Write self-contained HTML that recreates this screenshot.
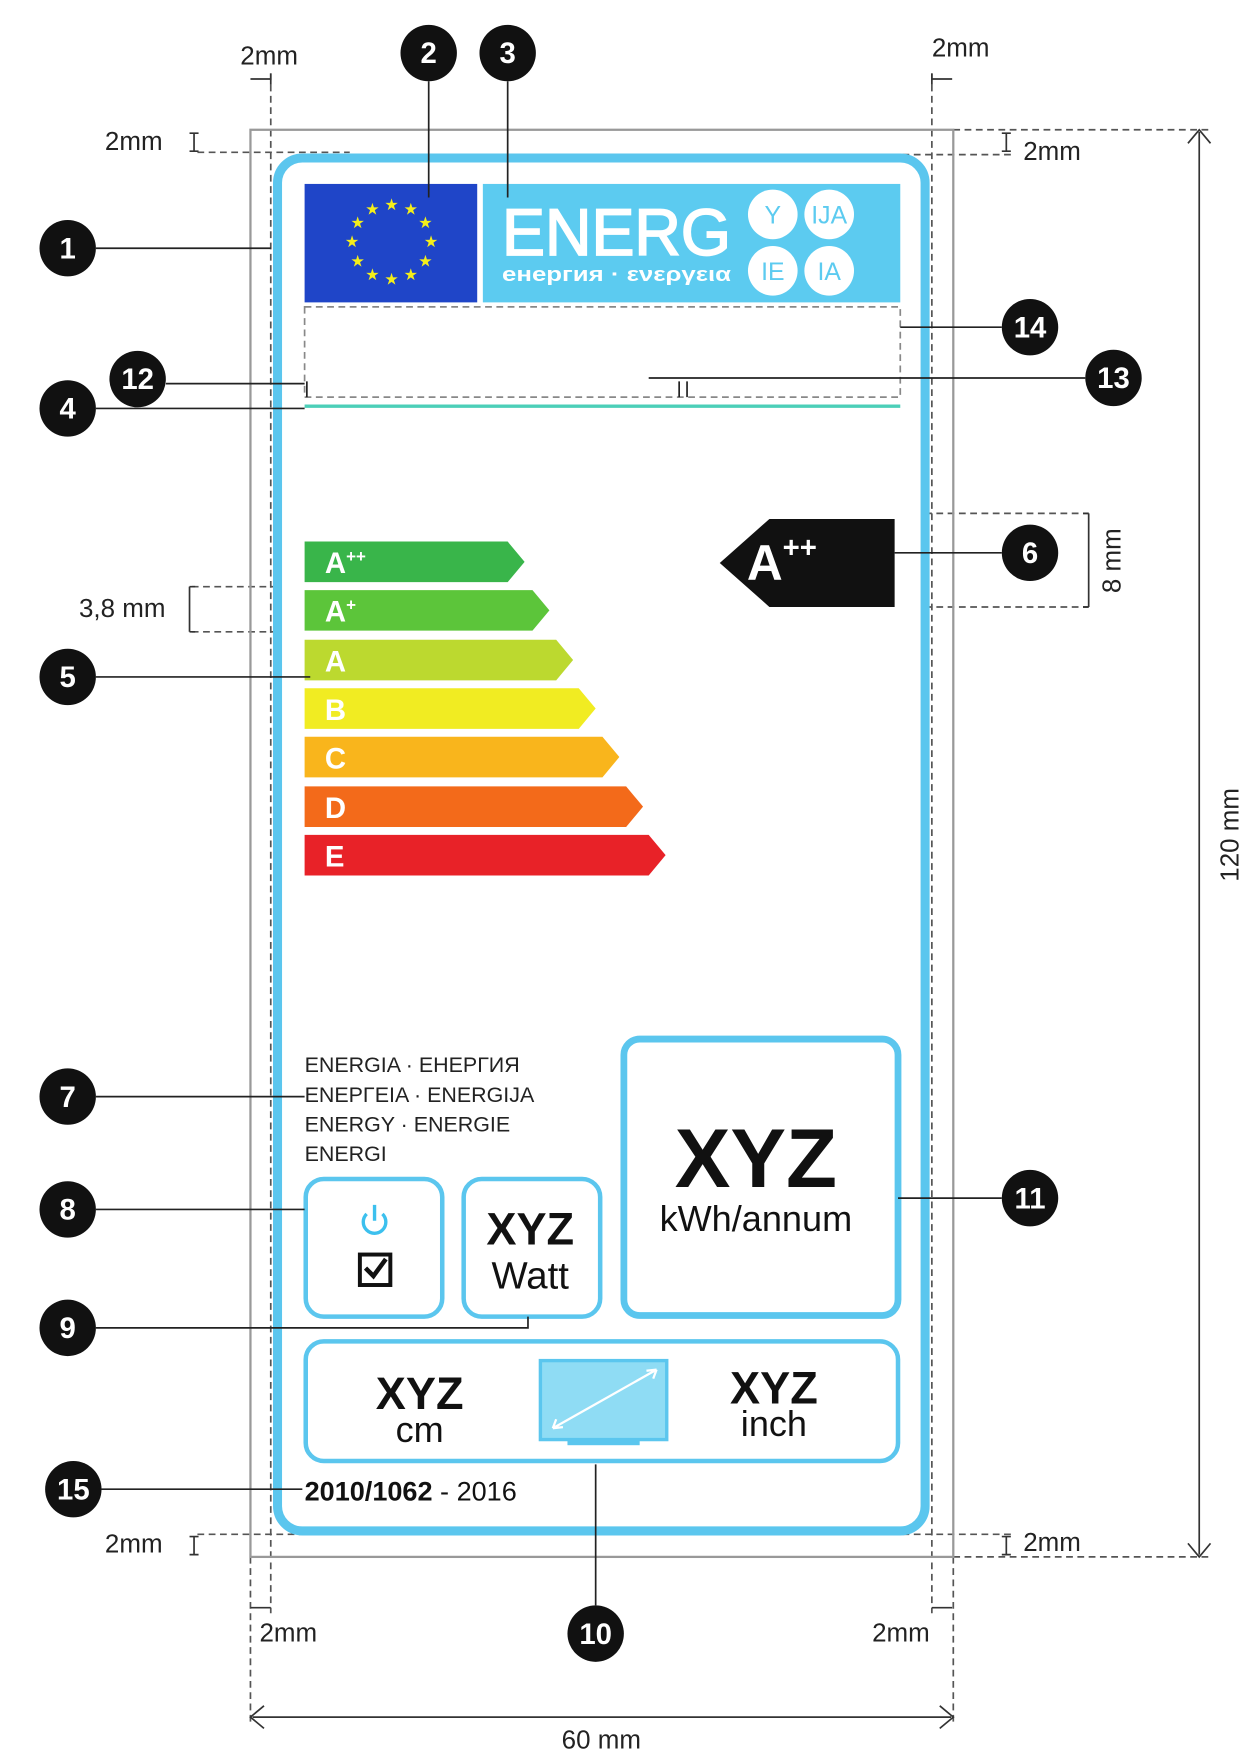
<!DOCTYPE html>
<html><head><meta charset="utf-8"><style>html,body{margin:0;padding:0;background:#fff}svg{display:block}text{font-family:"Liberation Sans",sans-serif}</style></head><body>
<svg width="1250" height="1760" viewBox="0 0 1108 1560" xmlns="http://www.w3.org/2000/svg">
<g fill="none" stroke="#555" stroke-width="1.5" stroke-dasharray="6,4">
<line x1="240" y1="65" x2="240" y2="1430"/><line x1="826" y1="65" x2="826" y2="1430"/>
<line x1="222" y1="1380" x2="222" y2="1530"/><line x1="845" y1="1380" x2="845" y2="1530"/>
<line x1="845" y1="115" x2="1075" y2="115"/><line x1="845" y1="1380" x2="1075" y2="1380"/>
<line x1="175" y1="135" x2="310" y2="135"/><line x1="760" y1="137" x2="900" y2="137"/>
<line x1="175" y1="1360" x2="310" y2="1360"/><line x1="760" y1="1360" x2="900" y2="1360"/>
<line x1="790" y1="455" x2="965" y2="455"/><line x1="790" y1="538" x2="965" y2="538"/>
<line x1="170" y1="520" x2="300" y2="520"/><line x1="170" y1="560" x2="300" y2="560"/>
</g>
<rect x="222" y="115" width="623" height="1265" fill="none" stroke="#999" stroke-width="2"/>
<rect x="246" y="140" width="574" height="1217" rx="22" fill="#fff" stroke="#5bc6ee" stroke-width="8"/>
<rect x="270" y="272" width="528" height="80" fill="none" stroke="#888" stroke-width="1.5" stroke-dasharray="6,4"/>
<g stroke="#333" stroke-width="1.5" fill="none">
<path d="M1063 117V1378M1053 127l10-12 10 12M1053 1368l10 12 10-12"/>
<path d="M224 1522H843M234 1512l-12 10 12 10M833 1512l12 10-12 10"/>
<path d="M965 455V538M960 455h5M960 538h5"/><path d="M168 520V560M173 520h-5M173 560h-5"/>
<path d="M172 118v16M168 118h8M168 134h8M892 118v16M888 118h8M888 134h8M172 1362v16M168 1362h8M168 1378h8M892 1362v16M888 1362h8M888 1378h8"/>
<path d="M222 70h18M240 65v10M826 70h18M826 65v10M222 1425h18M826 1425h18"/>
</g>
<rect x="270" y="163" width="153" height="105" fill="#1f45c8"/>
<g fill="#f4ee1a" font-size="14" text-anchor="middle">
<text x="347" y="186">★</text><text x="364" y="190">★</text><text x="377" y="202">★</text><text x="382" y="219">★</text><text x="377" y="236">★</text><text x="364" y="248">★</text><text x="347" y="252">★</text><text x="330" y="248">★</text><text x="317" y="236">★</text><text x="312" y="219">★</text><text x="317" y="202">★</text><text x="330" y="190">★</text>
</g>
<rect x="428" y="163" width="370" height="105" fill="#5ccbf0"/>
<text x="445" y="226" font-size="58" fill="#fff" textLength="203" lengthAdjust="spacingAndGlyphs" stroke="#fff" stroke-width="1.5">ENERG</text>
<text x="445" y="249" font-size="18" font-weight="bold" fill="#fff" textLength="203" lengthAdjust="spacingAndGlyphs">енергия · ενεργεια</text>
<g fill="#fff"><circle cx="685" cy="190" r="22"/><circle cx="735" cy="190" r="22"/><circle cx="685" cy="240" r="22"/><circle cx="735" cy="240" r="22"/></g>
<g fill="#5ccbf0" font-size="22" text-anchor="middle"><text x="685" y="198">Y</text><text x="735" y="198">IJA</text><text x="685" y="248">IE</text><text x="735" y="248">IA</text></g>
<line x1="270" y1="360" x2="798" y2="360" stroke="#4ccfb8" stroke-width="3"/>
<g font-size="26" font-weight="bold" fill="#fff">
<path d="M270 480h180l15 18-15 18H270z" fill="#39b54a"/><text x="288" y="508">A<tspan font-size="15" dy="-10">++</tspan></text>
<path d="M270 523h202l15 18-15 18H270z" fill="#5cc53a"/><text x="288" y="551">A<tspan font-size="15" dy="-10">+</tspan></text>
<path d="M270 567h223l15 18-15 18H270z" fill="#bcd92f"/><text x="288" y="595">A</text>
<path d="M270 610h243l15 18-15 18H270z" fill="#f1ec22"/><text x="288" y="638">B</text>
<path d="M270 653h264l15 18-15 18H270z" fill="#f9b51c"/><text x="288" y="681">C</text>
<path d="M270 697h285l15 18-15 18H270z" fill="#f36a1a"/><text x="288" y="725">D</text>
<path d="M270 740h305l15 18-15 18H270z" fill="#e82228"/><text x="288" y="768">E</text>
</g>
<path d="M682 460h111v78H682l-44-39z" fill="#111"/>
<text x="662" y="514" font-size="44" font-weight="bold" fill="#fff">A<tspan font-size="26" dy="-20">++</tspan></text>
<g font-size="19" fill="#222"><text x="270" y="950">ENERGIA · ЕНЕРГИЯ</text><text x="270" y="977">ΕΝΕΡΓΕΙΑ · ENERGIJA</text><text x="270" y="1003">ENERGY · ENERGIE</text><text x="270" y="1029">ENERGI</text></g>
<g fill="none" stroke="#5bc6ee" stroke-width="4">
<rect x="271" y="1045" width="121" height="122" rx="16"/><rect x="411" y="1045" width="121" height="122" rx="16"/>
<rect x="553" y="921" width="243" height="245" rx="14" stroke-width="6"/><rect x="271" y="1189" width="525" height="106" rx="16"/>
</g>
<path d="M325 1076a10 10 0 1 0 14 0M332 1068v14" stroke="#3cc0ee" stroke-width="3" fill="none"/>
<rect x="319" y="1112" width="27" height="27" fill="none" stroke="#111" stroke-width="3.5"/><path d="M324 1124l7 7 11-15" stroke="#111" stroke-width="4" fill="none"/>
<text x="470" y="1103" font-size="40" font-weight="bold" text-anchor="middle" fill="#111">XYZ</text>
<text x="470" y="1142" font-size="34" text-anchor="middle" fill="#111">Watt</text>
<text x="670" y="1052" font-size="74" font-weight="bold" text-anchor="middle" fill="#111">XYZ</text>
<text x="670" y="1091" font-size="32" text-anchor="middle" fill="#111">kWh/annum</text>
<text x="372" y="1249" font-size="40" font-weight="bold" text-anchor="middle" fill="#111">XYZ</text>
<text x="372" y="1278" font-size="32" text-anchor="middle" fill="#111">cm</text>
<text x="686" y="1244" font-size="40" font-weight="bold" text-anchor="middle" fill="#111">XYZ</text>
<text x="686" y="1273" font-size="32" text-anchor="middle" fill="#111">inch</text>
<rect x="479" y="1206" width="112" height="70" fill="#8fdcf4" stroke="#5bc6ee" stroke-width="3"/>
<rect x="503" y="1276" width="64" height="5" fill="#5bc6ee"/>
<path d="M490 1266L582 1214M490 1266l9-1M490 1266l3-8M582 1214l-9 1M582 1214l-3 8" stroke="#fff" stroke-width="2" fill="none"/>
<text x="270" y="1330" font-size="24" fill="#111"><tspan font-weight="bold">2010/1062</tspan> - 2016</text>
<g stroke="#222" stroke-width="1.5" fill="none">
<path d="M85 220H240M380 72V175M450 72V175M85 362H270M147 340H270M272 338v14M85 600H275M793 490H888M85 972H270M85 1072H270M85 1177H468v-10M528 1298V1423M796 1062H888M575 335H962M602 338v14M609 338v14M798 290H888M90 1320H268"/>
</g>
<g fill="#111"><circle cx="60" cy="220" r="25"/><circle cx="380" cy="47" r="25"/><circle cx="450" cy="47" r="25"/><circle cx="60" cy="362" r="25"/><circle cx="122" cy="336" r="25"/><circle cx="60" cy="600" r="25"/><circle cx="913" cy="490" r="25"/><circle cx="60" cy="972" r="25"/><circle cx="60" cy="1072" r="25"/><circle cx="60" cy="1177" r="25"/><circle cx="528" cy="1448" r="25"/><circle cx="913" cy="1062" r="25"/><circle cx="987" cy="335" r="25"/><circle cx="913" cy="290" r="25"/><circle cx="65" cy="1320" r="25"/></g>
<g fill="#fff" font-size="26" font-weight="bold" text-anchor="middle">
<text x="60" y="229">1</text><text x="380" y="56">2</text><text x="450" y="56">3</text><text x="60" y="371">4</text><text x="122" y="345">12</text><text x="60" y="609">5</text><text x="913" y="499">6</text><text x="60" y="981">7</text><text x="60" y="1081">8</text><text x="60" y="1186">9</text><text x="528" y="1457">10</text><text x="913" y="1071">11</text><text x="987" y="344">13</text><text x="913" y="299">14</text><text x="65" y="1329">15</text>
</g>
<g font-size="23" fill="#222">
<text x="213" y="57">2mm</text><text x="826" y="50">2mm</text><text x="93" y="133">2mm</text><text x="907" y="142">2mm</text>
<text x="93" y="1376">2mm</text><text x="907" y="1375">2mm</text><text x="230" y="1455">2mm</text><text x="773" y="1455">2mm</text>
<text x="70" y="547">3,8 mm</text><text x="533" y="1550" text-anchor="middle">60 mm</text>
<text transform="translate(993 497) rotate(-90)" text-anchor="middle">8 mm</text>
<text transform="translate(1098 740) rotate(-90)" text-anchor="middle">120 mm</text>
</g>
</svg>
</body></html>
